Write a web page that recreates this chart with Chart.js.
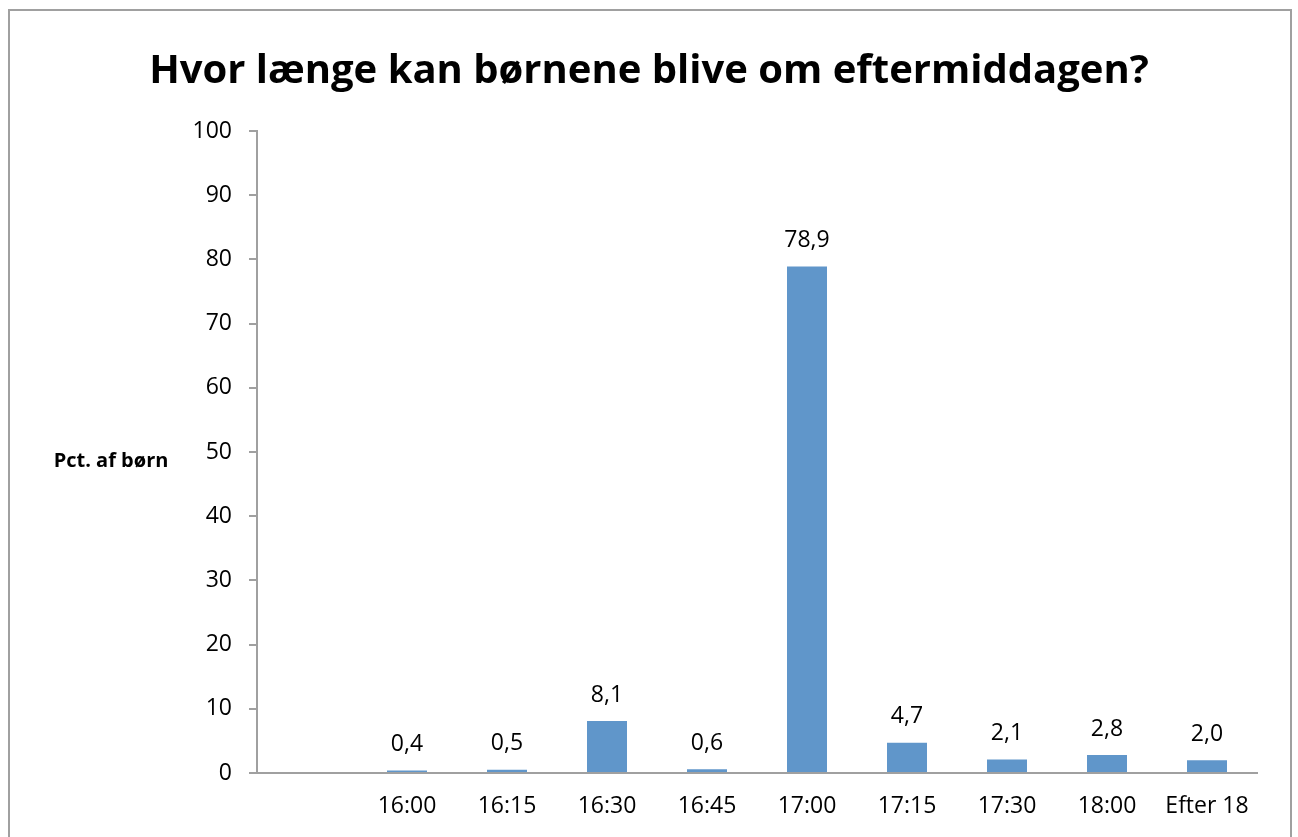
<!DOCTYPE html>
<html>
<head>
<meta charset="utf-8">
<script src="https://cdn.jsdelivr.net/npm/chart.js@4/dist/chart.umd.min.js"></script>
<style>
html,body{margin:0;padding:0;background:#fff;}
#wrap{width:1298px;height:837px;position:relative;}
</style>
</head>
<body>
<div id="wrap"><canvas id="c" width="1298" height="837"></canvas></div>
<script>
const categories = ['', '16:00', '16:15', '16:30', '16:45', '17:00', '17:15', '17:30', '18:00', 'Efter 18'];
const values = [null, 0.4, 0.5, 8.1, 0.6, 78.9, 4.7, 2.1, 2.8, 2.0];
const yTicks = [0, 10, 20, 30, 40, 50, 60, 70, 80, 90, 100];
const titleText = 'Hvor længe kan børnene blive om eftermiddagen?';
const yTitle = 'Pct. af børn';

const FONT = '"Open Sans", "Liberation Sans", sans-serif';

const decor = {
  id: 'decor',
  beforeDraw(chart) {
    const ctx = chart.ctx;
    ctx.save();
    ctx.fillStyle = '#fff';
    ctx.fillRect(0, 0, chart.width, chart.height);
    ctx.strokeStyle = '#a0a0a0';
    ctx.lineWidth = 2;
    ctx.strokeRect(9, 10, 1282, 900);
    ctx.fillStyle = '#000';
    ctx.textAlign = 'center';
    ctx.textBaseline = 'alphabetic';
    ctx.font = 'bold 40px ' + FONT;
    ctx.fillText(titleText, 649, 83);
    ctx.font = 'bold 20px ' + FONT;
    ctx.fillText(yTitle, 111, 467);
    ctx.restore();
  },
  afterDatasetsDraw(chart) {
    const ctx = chart.ctx;
    const meta = chart.getDatasetMeta(0);
    ctx.save();
    ctx.fillStyle = '#000';
    ctx.font = '23px ' + FONT;
    ctx.textAlign = 'center';
    ctx.textBaseline = 'middle';
    meta.data.forEach((bar, i) => {
      const v = values[i];
      if (v === null || v === undefined) return;
      ctx.fillText(v.toFixed(1).replace('.', ','), bar.x, bar.y - 26);
    });
    ctx.restore();
  }
};

new Chart(document.getElementById('c'), {
  type: 'bar',
  data: {
    labels: categories,
    datasets: [{
      data: values,
      backgroundColor: '#6096ca',
      borderWidth: 0,
      barPercentage: 0.4,
      categoryPercentage: 1.0
    }]
  },
  options: {
    responsive: false,
    animation: false,
    devicePixelRatio: 1,
    layout: { padding: { left: 0, right: 41, top: 131, bottom: 0 } },
    plugins: { legend: { display: false }, title: { display: false }, tooltip: { enabled: false } },
    scales: {
      x: {
        grid: { display: false, drawTicks: false },
        border: { display: true, color: '#a0a0a0', width: 2 },
        ticks: { color: '#000', font: { family: FONT, size: 23 }, padding: 20, maxRotation: 0, autoSkip: false },
        afterFit(s) { s.height = 64; }
      },
      y: {
        min: 0, max: 100,
        afterBuildTicks(s) { s.ticks = yTicks.map(v => ({ value: v })); },
        grid: { drawOnChartArea: false, drawTicks: true, tickLength: 8, color: '#a0a0a0', lineWidth: 2 },
        border: { display: true, color: '#a0a0a0', width: 2 },
        ticks: { color: '#000', font: { family: FONT, size: 23 }, padding: 17 },
        afterFit(s) { s.width = 257; }
      }
    }
  },
  plugins: [decor]
});
</script>
</body>
</html>
